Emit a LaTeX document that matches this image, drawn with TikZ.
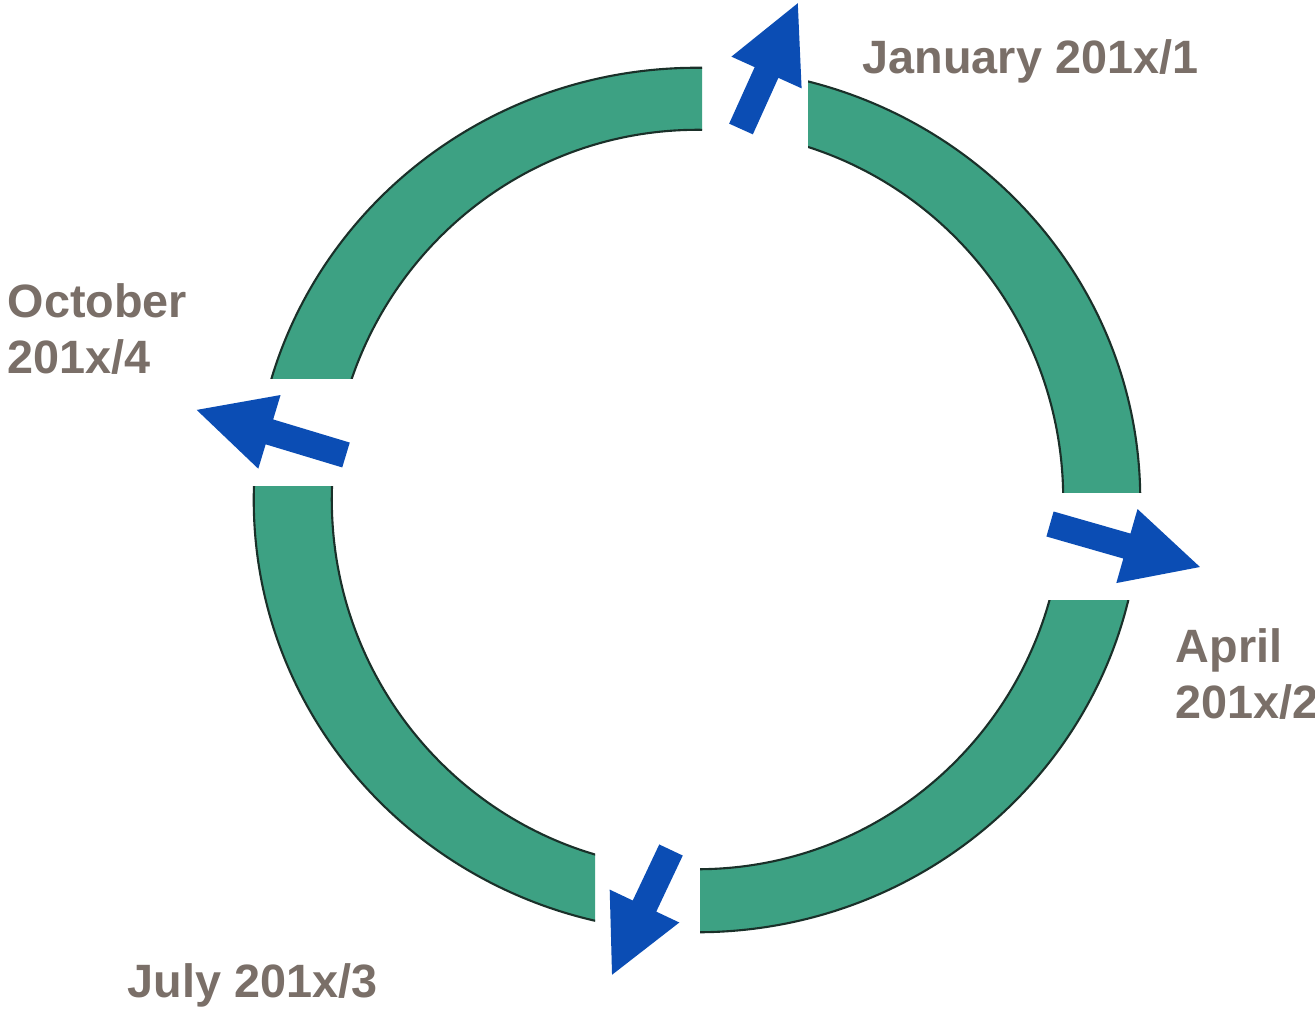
\documentclass[tikz,border=0pt]{standalone}
\usepackage{fontspec}
\setmainfont{Liberation Sans}
\definecolor{ringgreen}{HTML}{3DA183}
\definecolor{ringedge}{HTML}{1A3029}
\definecolor{arrowblue}{HTML}{0B4DB4}
\definecolor{labelgray}{HTML}{7A6F68}
\newcommand\ringpart[4]{%
  \begin{scope}
    \clip (#1,#2) rectangle (#3,#4);
    \fill[ringfill] (C) ellipse [x radius=4.43cm, y radius=4.32cm]
                    (Ci) ellipse [x radius=3.655cm, y radius=3.695cm];
    \draw[ringline] (C) ellipse [x radius=4.43cm, y radius=4.32cm]
                    (Ci) ellipse [x radius=3.655cm, y radius=3.695cm];
  \end{scope}}
\newcommand\cyclearrow[4]{%
  \fill[arrowshape, shift={(#1,#2)}, rotate=#3]
    (0,-13) -- ({#4-76},-13) -- ({#4-76},-38.5) -- (#4,0)
    -- ({#4-76},38.5) -- ({#4-76},13) -- (0,13) -- cycle;}
\begin{document}
\begin{tikzpicture}[x=0.01cm,y=-0.01cm,
  ringfill/.style={fill=ringgreen, even odd rule},
  ringline/.style={draw=ringedge, line width=0.6pt},
  arrowshape/.style={fill=arrowblue},
  lbl/.style={text=labelgray, font=\fontsize{13.3}{15.9}\selectfont\bfseries,
              inner sep=0pt, anchor=base west}]
\useasboundingbox[fill=white] (0,0) rectangle (1315,1009);
\coordinate (C) at (697,500);
\coordinate (Ci) at (697.5,499.5);
% ring segments
\ringpart{0}{0}{702}{378}
\ringpart{808}{0}{1315}{492}
\ringpart{700}{600}{1315}{1009}
\ringpart{0}{486}{595}{1009}
% arrows
\cyclearrow{741}{129}{65.7}{138}
\cyclearrow{1050}{524}{-16}{156}
\cyclearrow{671}{850}{244.7}{138}
\cyclearrow{346}{455}{163.2}{156}
% labels
\node[lbl] (jan) at (862,73) {January 201x/1};
\node[lbl] (apr1) at (1175,662) {April};
\node[lbl] (apr2) at (1175,718) {201x/2};
\node[lbl] (jul) at (127,997) {July 201x/3};
\node[lbl] (oct1) at (7,317) {October};
\node[lbl] (oct2) at (7,373) {201x/4};
\end{tikzpicture}
\end{document}
